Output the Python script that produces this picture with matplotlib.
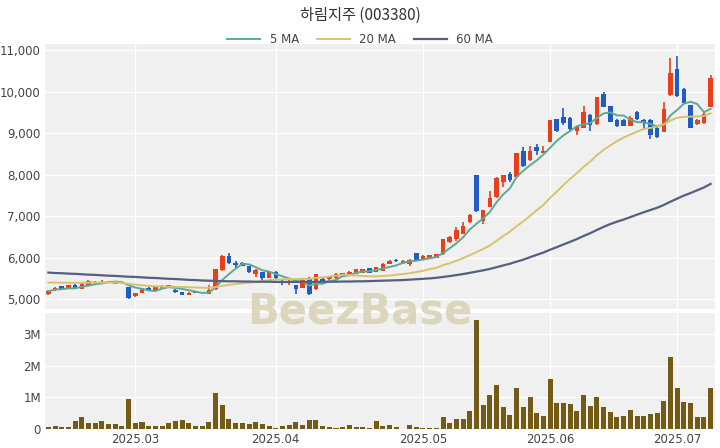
import numpy as np
import pandas as pd
import matplotlib
matplotlib.use("Agg")
import matplotlib.pyplot as plt
from matplotlib.ticker import FuncFormatter

# trading days (KRX holidays removed)
holidays = ["2025-05-01", "2025-05-05", "2025-05-06", "2025-06-03", "2025-06-06"]
dates = pd.bdate_range("2025-02-12", "2025-07-08")
dates = dates[~dates.isin(pd.to_datetime(holidays))]

opens = [5130, 5210, 5310, 5270, 5340, 5250, 5330, 5380, 5390, 5390,
         5370, 5400, 5290, 5070, 5150, 5280, 5200, 5250, 5300, 5230,
         5170, 5100, 5180, 5150, 5130, 5240, 5700, 6040, 5880, 5870,
         5800, 5600, 5650, 5510, 5660, 5440, 5380, 5330, 5270, 5500,
         5240, 5490, 5480, 5500, 5540, 5600, 5610, 5640, 5740, 5660,
         5690, 5850, 5940, 5860, 5850, 6110, 5960, 5970, 6000, 6080,
         6370, 6450, 6570, 6850, 7980, 6880, 7220, 7450, 7830, 8020,
         7950, 8560, 8350, 8660, 8520, 8790, 9330, 9380, 9360, 9050,
         9130, 9440, 9210, 9950, 9650, 9320, 9310, 9170, 9500, 9320,
         9320, 9130, 9030, 9920, 10550, 10070, 9670, 9220, 9240, 9640]
highs = [5220, 5290, 5320, 5350, 5360, 5380, 5470, 5440, 5450, 5440,
         5430, 5420, 5300, 5160, 5280, 5300, 5320, 5340, 5350, 5240,
         5180, 5170, 5190, 5180, 5350, 5730, 6060, 6110, 5920, 5900,
         5810, 5720, 5660, 5670, 5670, 5450, 5450, 5340, 5490, 5540,
         5610, 5510, 5570, 5640, 5640, 5670, 5730, 5730, 5750, 5780,
         5860, 5950, 5960, 5940, 5960, 6120, 6060, 6070, 6090, 6450,
         6510, 6750, 6850, 7040, 7990, 7160, 7600, 7940, 7990, 8060,
         8520, 8660, 8680, 8750, 8700, 9320, 9340, 9600, 9380, 9170,
         9650, 9460, 9880, 10000, 9660, 9340, 9330, 9420, 9540, 9340,
         9330, 9140, 9740, 10800, 10850, 10090, 9680, 9340, 9520, 10400]
lows = [5110, 5200, 5230, 5260, 5240, 5240, 5320, 5370, 5380, 5380,
        5360, 5370, 5010, 5050, 5140, 5220, 5190, 5240, 5290, 5160,
        5090, 5090, 5140, 5140, 5120, 5230, 5680, 5840, 5760, 5790,
        5630, 5530, 5430, 5500, 5490, 5330, 5330, 5130, 5260, 5100,
        5230, 5410, 5470, 5490, 5530, 5590, 5600, 5630, 5620, 5650,
        5680, 5840, 5900, 5850, 5800, 5920, 5950, 5960, 5990, 6070,
        6360, 6390, 6560, 6840, 7110, 6800, 7210, 7440, 7700, 7820,
        7940, 8180, 8340, 8470, 8510, 8780, 9030, 9200, 9060, 8950,
        9120, 9050, 9200, 9620, 9260, 9140, 9170, 9160, 9320, 9070,
        8860, 8890, 9020, 9900, 9870, 9700, 9120, 9200, 9220, 9630]
closes = [5200, 5280, 5250, 5330, 5250, 5370, 5430, 5420, 5420, 5420,
          5420, 5380, 5030, 5150, 5260, 5230, 5310, 5320, 5330, 5170,
          5100, 5160, 5150, 5170, 5220, 5720, 6050, 5870, 5820, 5800,
          5650, 5710, 5500, 5660, 5500, 5380, 5440, 5240, 5470, 5120,
          5600, 5420, 5560, 5600, 5630, 5660, 5720, 5720, 5630, 5770,
          5850, 5910, 5910, 5930, 5950, 5930, 6050, 6060, 6080, 6440,
          6500, 6660, 6770, 7030, 7120, 7150, 7440, 7930, 7980, 7860,
          8510, 8200, 8580, 8560, 8580, 9310, 9040, 9240, 9090, 9160,
          9520, 9200, 9870, 9630, 9280, 9160, 9180, 9370, 9340, 9250,
          8960, 8900, 9590, 10440, 9900, 9720, 9130, 9320, 9450, 10320]
volumes = [60000, 100000, 60000, 60000, 250000, 380000, 180000, 180000, 250000, 150000,
           150000, 100000, 950000, 200000, 240000, 90000, 90000, 90000, 180000, 250000,
           300000, 180000, 90000, 90000, 220000, 1140000, 750000, 330000, 180000, 180000,
           150000, 240000, 150000, 110000, 50000, 90000, 140000, 220000, 140000, 300000,
           280000, 110000, 70000, 50000, 70000, 120000, 70000, 80000, 40000, 270000,
           100000, 120000, 80000, 10000, 120000, 60000, 50000, 40000, 40000, 390000,
           210000, 330000, 330000, 560000, 3420000, 760000, 1080000, 1400000, 700000, 460000,
           1310000, 700000, 1020000, 520000, 430000, 1590000, 810000, 810000, 780000, 560000,
           1080000, 720000, 1020000, 690000, 550000, 370000, 400000, 590000, 420000, 420000,
           490000, 520000, 900000, 2280000, 1290000, 870000, 810000, 390000, 390000, 1290000]

# moving averages before the window is full
ma5_head = [5190, 5230, 5240, 5260]
ma20_head = [5400, 5400, 5395, 5395, 5395, 5395, 5400, 5400, 5400, 5400,
             5400, 5395, 5370, 5350, 5335, 5320, 5310, 5305, 5300]
ma60_head = [5640, 5630, 5625, 5615, 5610, 5600, 5590, 5585, 5575, 5565,
             5560, 5550, 5540, 5535, 5525, 5515, 5510, 5500, 5490, 5485,
             5475, 5465, 5460, 5450, 5445, 5440, 5435, 5430, 5430, 5425,
             5425, 5420, 5420, 5420, 5415, 5415, 5415, 5415, 5415, 5415,
             5415, 5420, 5420, 5420, 5425, 5425, 5430, 5430, 5435, 5440,
             5445, 5450, 5455, 5460, 5470, 5480, 5490, 5500, 5515]

df = pd.DataFrame({"open": opens, "high": highs, "low": lows,
                   "close": closes, "volume": volumes}, index=dates)
ma5 = df["close"].rolling(5).mean().values
ma20 = df["close"].rolling(20).mean().values
ma60 = df["close"].rolling(60).mean().values
ma5[:4] = ma5_head
ma20[:19] = ma20_head
ma60[:59] = ma60_head

UP = "#e8401c"
DOWN = "#1f5cc6"
BG = "#f0f0f0"

fig = plt.figure(figsize=(7.2, 4.48), dpi=100)
ax = fig.add_axes([0.0625, 0.310, 0.931, 0.592])
axv = fig.add_axes([0.0625, 0.042, 0.931, 0.259], sharex=ax)

x = np.arange(len(df))
up = df["close"].values >= df["open"].values
colors = np.where(up, UP, DOWN)

for a in (ax, axv):
    a.set_facecolor(BG)
    for s in a.spines.values():
        s.set_visible(False)
    a.grid(True, color="white", linewidth=1.0)
    a.set_axisbelow(True)
    a.tick_params(length=0, labelsize=8.5, colors="#444444", pad=3)

# candles
ax.vlines(x, df["low"], df["high"], colors=colors, linewidth=1.2, zorder=2)
body_lo = np.minimum(df["open"], df["close"])
body_h = np.abs(df["close"] - df["open"]).clip(lower=15)
ax.bar(x, body_h, bottom=body_lo, width=0.68, color=colors, zorder=3)

ax.plot(x, ma5, color="#5ea993", linewidth=1.4, label="5 MA", zorder=4)
ax.plot(x, ma20, color="#d5c46c", linewidth=1.4, label="20 MA", zorder=4)
ax.plot(x, ma60, color="#54607e", linewidth=1.6, label="60 MA", zorder=4)

ax.set_ylim(4760, 11150)
ax.set_yticks([5000, 6000, 7000, 8000, 9000, 10000, 11000])
ax.yaxis.set_major_formatter(FuncFormatter(lambda v, p: f"{int(v):,}"))
ax.tick_params(labelbottom=False)

# volume
axv.bar(x, df["volume"], width=0.75, color="#735a15", zorder=3)
axv.set_ylim(0, 3.65e6)
axv.set_yticks([0, 1e6, 2e6, 3e6])
axv.yaxis.set_major_formatter(FuncFormatter(lambda v, p: "0" if v == 0 else f"{int(v / 1e6)}M"))

month_first = [i for i in range(1, len(df)) if df.index[i].month != df.index[i - 1].month]
axv.set_xticks(month_first)
axv.set_xticklabels([df.index[i].strftime("%Y.%m") for i in month_first])
axv.set_xlim(-0.5, 99.7)

fig.text(0.5, 0.305, "BeezBase", ha="center", va="center", fontsize=30,
         fontweight="bold", color="#d9d3b6", alpha=0.9, zorder=10)

fig.suptitle("하림지주 (003380)", y=0.985, fontsize=11, color="#333333",
             family=["Noto Sans CJK KR", "DejaVu Sans"])
fig.legend(loc="upper center", bbox_to_anchor=(0.5, 0.95), ncol=3, frameon=False,
           fontsize=8.5, handlelength=2.8, columnspacing=1.5, labelcolor="#444444")

plt.savefig("out.png", dpi=100)
